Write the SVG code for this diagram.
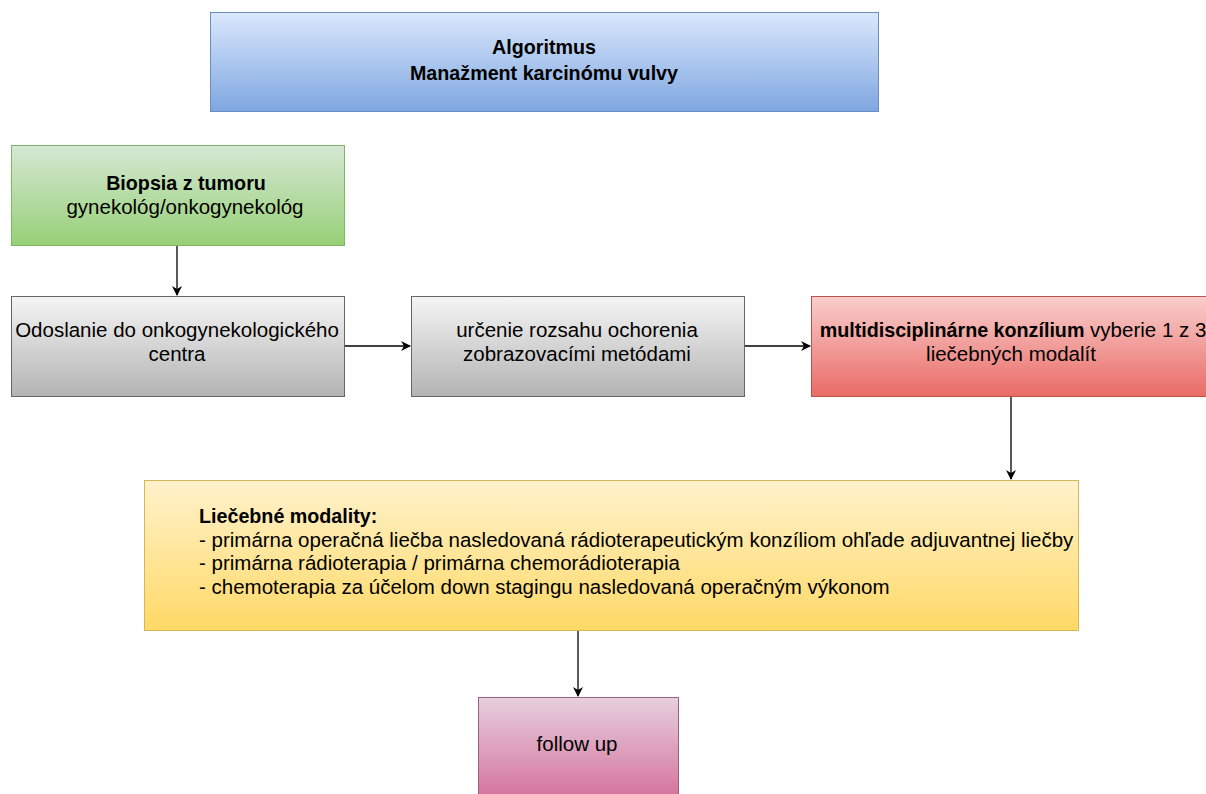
<svg xmlns="http://www.w3.org/2000/svg" width="1206" height="794" viewBox="0 0 1206 794">
<defs>
<linearGradient id="gBlue" x1="0" y1="0" x2="0" y2="1"><stop offset="0" stop-color="#dae8fc"/><stop offset="1" stop-color="#7ea6e0"/></linearGradient>
<linearGradient id="gGreen" x1="0" y1="0" x2="0" y2="1"><stop offset="0" stop-color="#d5e8d4"/><stop offset="1" stop-color="#97d077"/></linearGradient>
<linearGradient id="gGray" x1="0" y1="0" x2="0" y2="1"><stop offset="0" stop-color="#f5f5f5"/><stop offset="1" stop-color="#b3b3b3"/></linearGradient>
<linearGradient id="gRed" x1="0" y1="0" x2="0" y2="1"><stop offset="0" stop-color="#f8cecc"/><stop offset="1" stop-color="#ea6b66"/></linearGradient>
<linearGradient id="gYellow" x1="0" y1="0" x2="0" y2="1"><stop offset="0" stop-color="#fff2cc"/><stop offset="1" stop-color="#ffd966"/></linearGradient>
<linearGradient id="gPink" x1="0" y1="0" x2="0" y2="1"><stop offset="0" stop-color="#e6d0de"/><stop offset="1" stop-color="#d5739d"/></linearGradient>
<marker id="arr" viewBox="0 0 10 10" refX="9" refY="5" markerWidth="10" markerHeight="10" markerUnits="userSpaceOnUse" orient="auto"><path d="M0,0 L10,5 L0,10 L3,5 Z" fill="#000"/></marker>
</defs>
<style>
text{font-family:"Liberation Sans",Arial,sans-serif;font-size:20.5px;fill:#000}
.c{text-anchor:middle}
.b{font-weight:bold;font-size:19.7px}
.e{stroke:#000;stroke-width:1.3;fill:none;marker-end:url(#arr)}
</style>
<rect width="1206" height="794" fill="#fff"/>
<g id="connectors">
<line class="e" x1="177" y1="245" x2="177" y2="295"/>
<line class="e" x1="344" y1="346" x2="410" y2="346"/>
<line class="e" x1="744" y1="346" x2="810" y2="346"/>
<line class="e" x1="1011" y1="396" x2="1011" y2="479"/>
<line class="e" x1="578" y1="630" x2="578" y2="696"/>
</g>
<g id="title">
<rect x="210.5" y="12.5" width="668" height="99" fill="url(#gBlue)" stroke="#6c8ebf"/>
<text class="c b" x="544" y="54">Algoritmus</text>
<text class="c b" x="544" y="80">Manažment karcinómu vulvy</text>
</g>
<g id="biopsia">
<rect x="11.5" y="145.5" width="333" height="100" fill="url(#gGreen)" stroke="#82b366"/>
<text class="c b" x="186" y="190">Biopsia z tumoru</text>
<text class="c" x="185" y="214">gynekológ/onkogynekológ</text>
</g>
<g id="odoslanie">
<rect x="11.5" y="296.5" width="333" height="100" fill="url(#gGray)" stroke="#666666"/>
<text class="c" x="177" y="337">Odoslanie do onkogynekologického</text>
<text class="c" x="177" y="361">centra</text>
</g>
<g id="urcenie">
<rect x="411.5" y="296.5" width="333" height="100" fill="url(#gGray)" stroke="#666666"/>
<text class="c" x="577" y="337">určenie rozsahu ochorenia</text>
<text class="c" x="577" y="361">zobrazovacími metódami</text>
</g>
<g id="konzilium">
<rect x="811.5" y="296.5" width="400" height="100" fill="url(#gRed)" stroke="#b85450"/>
<text class="c" x="1013" y="337"><tspan class="b">multidisciplinárne konzílium</tspan> vyberie 1 z 3</text>
<text class="c" x="1011" y="361">liečebných modalít</text>
</g>
<g id="modality">
<rect x="144.5" y="480.5" width="934" height="150" fill="url(#gYellow)" stroke="#d6b656"/>
<text class="b" x="199" y="523">Liečebné modality:</text>
<text x="199" y="547">- primárna operačná liečba nasledovaná rádioterapeutickým konzíliom ohľade adjuvantnej liečby</text>
<text x="199" y="570">- primárna rádioterapia / primárna chemorádioterapia</text>
<text x="199" y="594">- chemoterapia za účelom down stagingu nasledovaná operačným výkonom</text>
</g>
<g id="followup">
<rect x="478.5" y="697.5" width="200" height="100" fill="url(#gPink)" stroke="#996185"/>
<text class="c" x="577" y="751">follow up</text>
</g>
</svg>
